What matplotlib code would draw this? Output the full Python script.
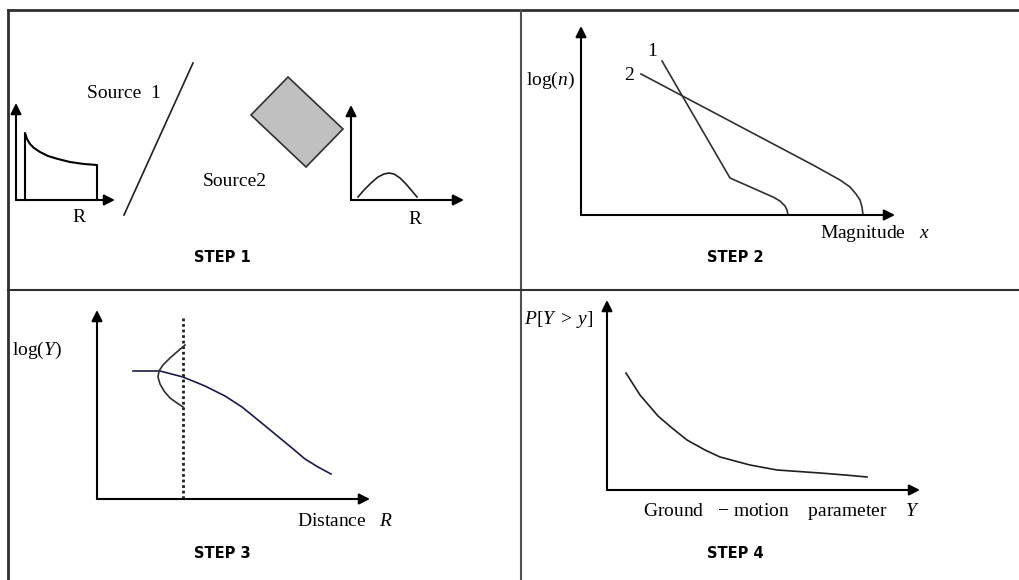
# PSHA four-step schematic

import matplotlib.pyplot as plt
from matplotlib.patches import Polygon

plt.rcParams['font.family'] = 'Liberation Serif'
plt.rcParams['mathtext.fontset'] = 'custom'
plt.rcParams['mathtext.rm'] = 'Liberation Serif'
plt.rcParams['mathtext.it'] = 'Liberation Serif:italic'

# Sketch data (figure pixel coordinates, y grows downwards)

# Step 1 - distance distribution for source 1 (line source)
src1_x = [25, 27, 30, 34, 40, 48, 58, 70, 84, 97]
src1_y = [133, 139, 144, 148, 152, 156, 159, 162, 164, 165]
# fault line of source 1
fault_x = [124, 193]
fault_y = [215, 63]
# area source 2 (rotated rectangle)
area_x = [288, 343, 306, 251]
area_y = [77, 129, 167, 115]
# distance distribution for source 2
src2_x = [358, 364, 371, 378, 384, 389, 394, 400, 406, 412, 417]
src2_y = [197, 190, 183, 177, 174, 173, 174, 178, 184, 191, 197]

# Step 2 - recurrence curves
rec1_x = [662, 730, 773, 780, 785, 787, 788]
rec1_y = [61, 178, 197, 201, 206, 210, 215]
rec2_x = [641, 813, 840, 850, 856, 860, 862, 863]
rec2_y = [74, 165, 180, 187, 194, 200, 207, 215]

# Step 3 - attenuation curve and scatter distribution
att_x = [133, 160, 183, 205, 225, 242, 258, 275, 292, 305, 318, 331]
att_y = [371, 371, 377, 386, 396, 407, 420, 434, 448, 459, 467, 474]
dist_x = [185, 178, 170, 163, 159, 158, 160, 164, 170, 177, 183]
dist_y = [345, 351, 358, 365, 371, 377, 384, 391, 398, 403, 407]

# Step 4 - hazard curve
haz_x = [626, 640, 658, 672, 687, 705, 720, 750, 777, 820, 845, 867]
haz_y = [373, 395, 416, 428, 440, 450, 457, 465, 470, 473, 475, 477]

fig = plt.figure(figsize=(10.19, 5.80), dpi=100)
ax = fig.add_axes([0, 0, 1, 1])
ax.set_xlim(0, 1019)
ax.set_ylim(580, 0)
ax.axis('off')

# Panel frame
ax.plot([8, 1019], [10, 10], color='#303030', lw=2)
ax.plot([8, 8], [10, 580], color='#303030', lw=2)
ax.plot([521, 521], [10, 580], color='#505050', lw=1.5)
ax.plot([8, 1019], [290, 290], color='#303030', lw=1.5)


def axis_arrows(x0, y0, x1, y1):
    arrow = dict(arrowstyle='-|>', mutation_scale=16, lw=1.5, color='black',
                 shrinkA=0, shrinkB=0)
    ax.annotate('', xy=(x1, y0), xytext=(x0, y0), arrowprops=arrow)
    ax.annotate('', xy=(x0, y1), xytext=(x0, y0), arrowprops=arrow)


lab = dict(fontsize=14, color='black', va='center')
step = dict(fontsize=10.5, fontweight='bold', family='DejaVu Sans',
            ha='center', va='center', color='black')

# STEP 1
axis_arrows(16, 200, 115, 103)
ax.plot([25] + src1_x + [97, 97], [200] + src1_y + [165, 200], color='black', lw=1.5)
ax.plot(fault_x, fault_y, color='#202020', lw=1.2)
ax.add_patch(Polygon(list(zip(area_x, area_y)), closed=True,
                     facecolor='#c0c0c0', edgecolor='#303030', lw=1.2))
axis_arrows(351, 200, 464, 105)
ax.plot(src2_x, src2_y, color='#202020', lw=1.2)
ax.text(87, 93, 'Source  1', ha='left', **lab)
ax.text(203, 181, 'Source2', ha='left', **lab)
ax.text(79, 217, 'R', ha='center', **lab)
ax.text(415, 220, 'R', ha='center', **lab)
ax.text(222, 257, 'STEP 1', **step)

# STEP 2
axis_arrows(581, 215, 895, 26)
ax.plot(rec1_x, rec1_y, color='#303030', lw=1.2)
ax.plot(rec2_x, rec2_y, color='#303030', lw=1.2)
ax.text(652, 52, '1', ha='center', **lab)
ax.text(629, 76, '2', ha='center', **lab)
ax.text(526, 80, 'log($n$)', ha='left', **lab)
ax.text(820, 233, 'Magnitude   $x$', ha='left', **lab)
ax.text(735, 257, 'STEP 2', **step)

# STEP 3
axis_arrows(97, 499, 370, 310)
ax.plot([183, 183], [318, 499], color='#202020', lw=2, linestyle=(0, (1, 1)))
ax.plot(att_x, att_y, color='#1a1a50', lw=1.2)
ax.plot(dist_x, dist_y, color='#303030', lw=1.2)
ax.text(12, 350, 'log($Y$)', ha='left', **lab)
ax.text(297, 522, 'Distance   $R$', ha='left', **lab)
ax.text(222, 553, 'STEP 3', **step)

# STEP 4
axis_arrows(607, 490, 920, 300)
ax.plot(haz_x, haz_y, color='#202020', lw=1.2)
ax.text(524, 320, r'$P[Y\;>\;y]$', ha='left', **lab)
ax.text(643, 512, 'Ground   \u2212 motion    parameter    $Y$', ha='left', **lab)
ax.text(735, 553, 'STEP 4', **step)

fig.savefig('out.png', dpi=100)
